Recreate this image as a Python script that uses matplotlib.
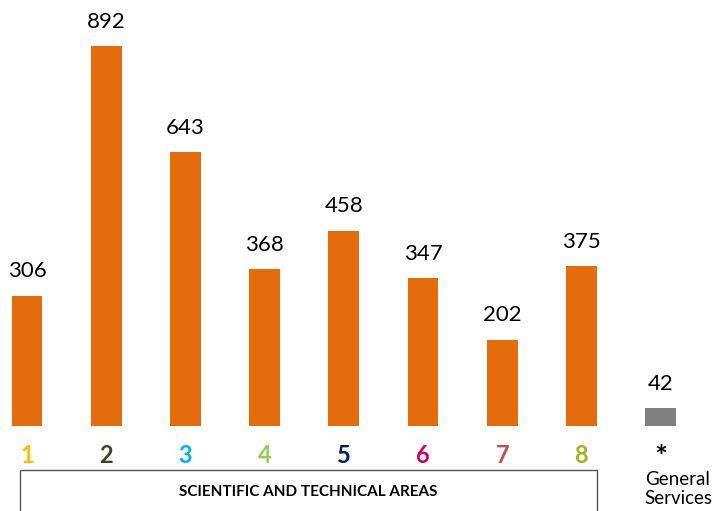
import matplotlib.pyplot as plt
from matplotlib.patches import Rectangle

# chart data
labels = ['1', '2', '3', '4', '5', '6', '7', '8', '*']
values = [306, 892, 643, 368, 458, 347, 202, 375, 42]
label_colors = ['#FFC000', '#3B4A1E', '#00B0F0', '#92D050', '#002060',
                '#CC0066', '#C0504D', '#A5B41A', '#000000']
bar_colors = ['#E46C0A'] * 8 + ['#808080']

plt.rcParams['font.family'] = ['Lato', 'DejaVu Sans']

fig = plt.figure(figsize=(7.21, 5.11), dpi=100)
ax = fig.add_axes([0, (511 - 426) / 511, 1, 426 / 511])

x = list(range(len(values)))
ax.bar(x, values, width=0.39, color=bar_colors)
for xi, v in zip(x, values):
    ax.text(xi, v + 34, str(v), ha='center', va='bottom', fontsize=16)

ax.set_xlim(-27 / 79.2, (721 - 27) / 79.2)
ax.set_ylim(0, 1000)
ax.set_xticks(x)
ax.set_xticklabels(labels, fontsize=17, fontweight='bold')
for t, c in zip(ax.get_xticklabels(), label_colors):
    t.set_color(c)
ax.get_xticklabels()[-1].set_fontsize(22)
ax.tick_params(axis='x', length=0, pad=13)
ax.set_yticks([])
for s in ax.spines.values():
    s.set_visible(False)

# box for the scientific areas
fig.patches.append(Rectangle((20 / 721, -0.05), (597 - 20) / 721, (511 - 470) / 511 + 0.05,
                             transform=fig.transFigure, fill=False,
                             edgecolor='#555555', linewidth=1))
fig.text(308 / 721, 1 - 492 / 511, 'SCIENTIFIC AND TECHNICAL AREAS',
         ha='center', va='center', fontsize=11, fontweight='bold')
fig.text(678 / 721, 1 - 489 / 511, 'General\nServices',
         ha='center', va='center', fontsize=13.5, linespacing=1.15)

fig.savefig('out.png', dpi=100)
